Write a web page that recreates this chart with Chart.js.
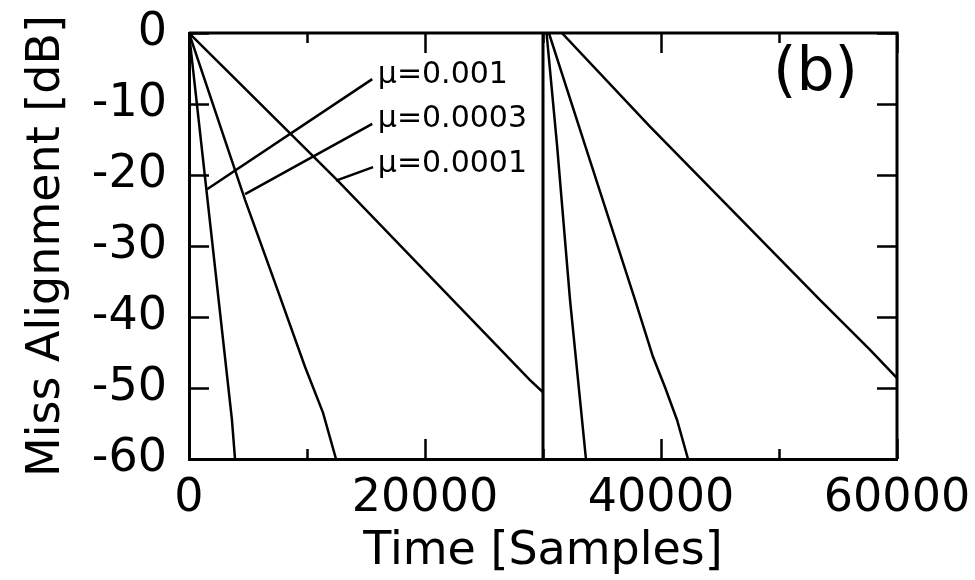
<!DOCTYPE html>
<html lang="en">
<head>
<meta charset="UTF-8">
<title>Miss Alignment (b)</title>
<style>
    html, body { margin: 0; padding: 0; background: #fff; }
    #wrap { width: 975px; height: 580px; }
</style>
<script src="https://cdn.jsdelivr.net/npm/chart.js"></script>
</head>
<body>
<div id="wrap"><canvas id="chart"></canvas></div>
<script>
    // values: time [samples] vs miss alignment [dB]
    // a null value breaks the curve where the system changes at 30000
    const muLabels = ['μ=0.001', 'μ=0.0003', 'μ=0.0001'];

    const t001 = [0, 3640, 3900, 30000, 30300, 31190, 32290, 33640];
    const e001 = [0, -54.5, -60, null, 0, -15.8, -37.6, -60];

    const t0003 = [0, 4750, 7290, 9830, 11360, 12460,
                   30000, 30500, 33560, 37800, 39320, 40340, 41360, 42290];
    const e0003 = [0, -23.5, -35.2, -47, -53.5, -60,
                   null, 0, -15.8, -37.6, -45.6, -49.9, -54.5, -60];

    const t0001 = [0, 12540, 28900, 30000, 31000, 31600, 39070, 53470, 57700, 60000];
    const e0001 = [0, -20.7, -48.9, -50.6, null, 0, -13.2, -37.6, -44.6, -48.6];

    // the change point
    const tChange = [30000, 30000];
    const eChange = [-60, 0];

    // leader lines from the labels to the curves
    const tLead001 = [1530, 15530];
    const eLead001 = [-22, -6.5];
    const tLead0003 = [4750, 15530];
    const eLead0003 = [-22.7, -12.8];
    const tLead0001 = [12460, 15600];
    const eLead0001 = [-20.8, -18.9];

    const xTicks = [0, 20000, 40000, 60000];
    const xMinorTicks = [10000, 30000, 50000];
    const yTicks = [0, -10, -20, -30, -40, -50, -60];

    const FONT = 'DejaVu Sans';

    const pts = (xs, ys) => xs.map((x, i) => ({ x: x, y: ys[i] }));
    const line = (data, width) => ({
        data: data,
        borderColor: '#000',
        borderWidth: width,
        pointRadius: 0,
        fill: false,
        tension: 0,
        spanGaps: false
    });

    // frame on top/right, inward ticks, and the text labels
    const frame = {
        id: 'frame',
        afterDraw(chart) {
            const { ctx, chartArea: a, scales: { x, y } } = chart;
            ctx.save();
            ctx.strokeStyle = '#000';
            ctx.lineWidth = 3;
            ctx.beginPath();
            ctx.moveTo(a.left, a.top);
            ctx.lineTo(a.right, a.top);
            ctx.lineTo(a.right, a.bottom);
            ctx.stroke();

            ctx.lineWidth = 2.5;
            ctx.beginPath();
            xTicks.concat(xMinorTicks).forEach(v => {
                const px = Math.round(x.getPixelForValue(v)) + 0.5;
                const len = xTicks.includes(v) ? 20 : 10;
                ctx.moveTo(px, a.bottom); ctx.lineTo(px, a.bottom - len);
                ctx.moveTo(px, a.top); ctx.lineTo(px, a.top + len);
            });
            yTicks.forEach(v => {
                const py = Math.round(y.getPixelForValue(v)) + 0.5;
                ctx.moveTo(a.left, py); ctx.lineTo(a.left + 20, py);
                ctx.moveTo(a.right, py); ctx.lineTo(a.right - 20, py);
            });
            ctx.stroke();

            ctx.fillStyle = '#000';
            ctx.textBaseline = 'middle';
            ctx.textAlign = 'left';
            ctx.font = '30px "' + FONT + '"';
            const labelY = [-5.9, -12.1, -18.5];
            muLabels.forEach((s, i) => {
                ctx.fillText(s, x.getPixelForValue(16000), y.getPixelForValue(labelY[i]));
            });
            ctx.font = '60px "' + FONT + '"';
            ctx.fillText('(b)', x.getPixelForValue(49500), y.getPixelForValue(-5.9));
            ctx.restore();
        }
    };

    new Chart(document.getElementById('chart'), {
        type: 'line',
        data: {
            datasets: [
                line(pts(t001, e001), 2.5),
                line(pts(t0003, e0003), 2.5),
                line(pts(t0001, e0001), 2.5),
                line(pts(tChange, eChange), 3),
                line(pts(tLead001, eLead001), 2.5),
                line(pts(tLead0003, eLead0003), 2.5),
                line(pts(tLead0001, eLead0001), 2.5)
            ]
        },
        options: {
            responsive: true,
            maintainAspectRatio: false,
            animation: false,
            layout: { padding: { top: 33, right: 78, bottom: 0, left: 0 } },
            plugins: {
                legend: { display: false },
                tooltip: { enabled: false }
            },
            scales: {
                x: {
                    type: 'linear',
                    min: 0,
                    max: 60000,
                    afterBuildTicks: s => { s.ticks = xTicks.map(v => ({ value: v })); },
                    afterFit: s => {
                        s.height = 121;
                        s.paddingLeft = 0;
                        s.paddingRight = 0;
                    },
                    grid: { display: false },
                    border: { display: true, color: '#000', width: 3 },
                    ticks: {
                        color: '#000',
                        font: { family: FONT, size: 46 },
                        padding: 4,
                        maxRotation: 0,
                        autoSkip: false,
                        callback: v => String(v)
                    },
                    title: {
                        display: true,
                        text: 'Time [Samples]',
                        color: '#000',
                        font: { family: FONT, size: 46 },
                        padding: { top: 0, bottom: 0 }
                    }
                },
                y: {
                    min: -60,
                    max: 0,
                    afterBuildTicks: s => { s.ticks = yTicks.map(v => ({ value: v })); },
                    afterFit: s => {
                        s.width = 189;
                        s.paddingTop = 0;
                        s.paddingBottom = 0;
                    },
                    grid: { display: false },
                    border: { display: true, color: '#000', width: 3 },
                    ticks: {
                        color: '#000',
                        font: { family: FONT, size: 46 },
                        padding: 14
                    },
                    title: {
                        display: true,
                        text: 'Miss Alignment [dB]',
                        color: '#000',
                        font: { family: FONT, size: 46 },
                        padding: { top: 19, bottom: 0 }
                    }
                }
            }
        },
        plugins: [frame]
    });
</script>
</body>
</html>
